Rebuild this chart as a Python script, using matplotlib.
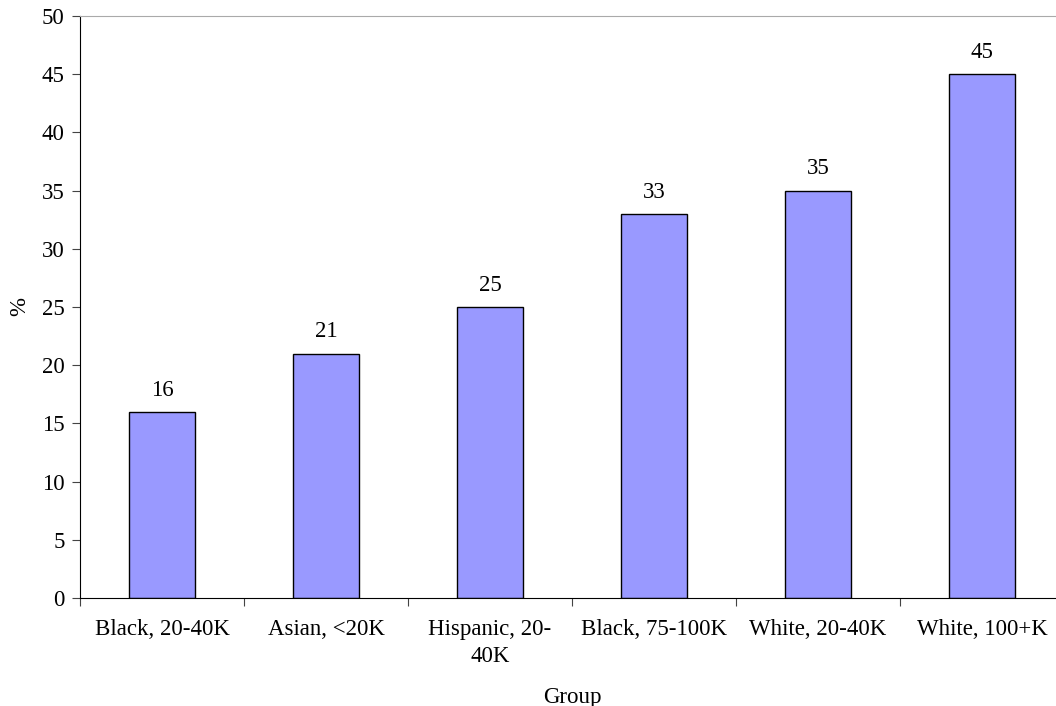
import matplotlib.pyplot as plt
import numpy as np

plt.rcParams['font.family'] = ['Liberation Serif', 'DejaVu Serif']

groups = ['Black, 20-40K', 'Asian, <20K', 'Hispanic, 20-\n40K',
          'Black, 75-100K', 'White, 20-40K', 'White, 100+K']
values = [16, 21, 25, 33, 35, 45]

fs = 16.5

fig = plt.figure(figsize=(10.56, 7.06), dpi=100)
# plot area runs a little past the right edge, as in the source
ax = fig.add_axes([80 / 1056, 108 / 706, 984 / 1056, 582 / 706])

x = np.arange(len(groups))
bars = ax.bar(x, values, width=0.4, color='#9999FF', edgecolor='black', linewidth=1)

for b, v in zip(bars, values):
    ax.annotate(str(v), (b.get_x() + b.get_width() / 2, v),
                xytext=(0, 8), textcoords='offset points',
                ha='center', va='bottom', fontsize=fs)

ax.set_xlim(-0.5, len(groups) - 0.5)
ax.set_ylim(0, 50)
ax.set_yticks(np.arange(0, 51, 5))
ax.set_xticks(np.arange(len(groups) + 1) - 0.5, minor=False)
ax.set_xticklabels([])
ax.set_xticks(x, minor=True)
ax.set_xticklabels(groups, minor=True, fontsize=fs, linespacing=1.4)
ax.tick_params(axis='x', which='minor', length=0, pad=15)
ax.tick_params(axis='x', which='major', direction='out', length=6, color='#444444')
ax.tick_params(axis='y', direction='out', length=6, color='#444444', labelsize=fs, pad=5)

ax.spines['top'].set_color('#aaaaaa')
ax.spines['right'].set_visible(False)
ax.spines['left'].set_color('black')
ax.spines['bottom'].set_color('black')

ax.set_xlabel('Group', fontsize=fs, labelpad=14)
ax.set_ylabel('%', fontsize=fs, labelpad=8)

fig.savefig('out.png', dpi=100)
